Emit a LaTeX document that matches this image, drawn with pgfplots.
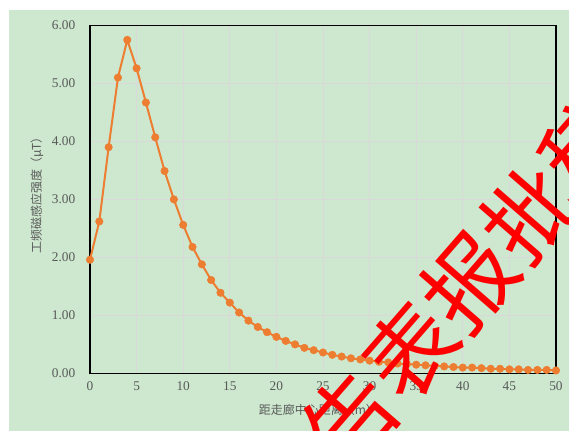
\documentclass[border=0pt]{standalone}
\usepackage{fontspec}
\setmainfont{Liberation Serif}
\newfontfamily\cjk{Noto Sans CJK SC}
\usepackage{pgfplots}
\pgfplotsset{compat=1.18}
\definecolor{bggreen}{RGB}{205,232,207}
\definecolor{lineor}{RGB}{237,125,49}
\definecolor{tickgray}{RGB}{89,89,89}
\definecolor{gridgray}{RGB}{217,217,217}
\begin{document}
\begin{tikzpicture}
\fill[white] (0pt,0pt) rectangle (426.75pt,323.25pt);
\fill[bggreen] (6.75pt,0pt) rectangle (426.75pt,315.75pt);
\begin{axis}[
  at={(67.5pt,43.2pt)}, anchor=south west,
  scale only axis, width=349.5pt, height=261pt,
  xmin=0, xmax=50, ymin=0, ymax=6,
  xtick={0,5,...,50}, ytick={0,1,...,6},
  yticklabel style={/pgf/number format/fixed, /pgf/number format/fixed zerofill, /pgf/number format/precision=2},
  /pgf/number format/assume math mode=true,
  ticklabel style={font=\fontsize{10}{11}\selectfont, text=tickgray},
  tick style={draw=none},
  grid=major, grid style={gridgray, line width=0.6pt},
  axis line style={black, line width=0.9pt},
  axis background/.style={fill=bggreen},
  xticklabel style={yshift=-3pt},
  yticklabel style={xshift=-7.5pt},
  xlabel={\cjk 距走廊中心距离（m）},
  ylabel={\cjk 工频磁感应强度（μT）},
  label style={font=\fontsize{9}{10}\selectfont, text=tickgray},
  xlabel style={at={(axis description cs:0.49,-0.105)}, anchor=center},
  ylabel style={at={(axis description cs:-0.114,0.52)}, anchor=center},
]
\addplot[color=lineor, line width=1.5pt, mark=*, mark size=2.8pt, mark options={solid, fill=lineor, draw=lineor, line width=0.4pt}] coordinates {
(0,1.96) (1,2.62) (2,3.90) (3,5.10) (4,5.75) (5,5.26) (6,4.67) (7,4.07) (8,3.49) (9,3.00)
(10,2.56) (11,2.18) (12,1.88) (13,1.61) (14,1.39) (15,1.22) (16,1.05) (17,0.91) (18,0.80) (19,0.71)
(20,0.63) (21,0.56) (22,0.50) (23,0.44) (24,0.40) (25,0.36) (26,0.32) (27,0.29) (28,0.26) (29,0.24)
(30,0.22) (31,0.20) (32,0.19) (33,0.17) (34,0.16) (35,0.15) (36,0.14) (37,0.13) (38,0.12) (39,0.11)
(40,0.10) (41,0.10) (42,0.09) (43,0.08) (44,0.08) (45,0.07) (46,0.07) (47,0.06) (48,0.06) (49,0.06)
(50,0.05)
};
\end{axis}
\begin{scope}
\clip (0pt,0pt) rectangle (426.75pt,323.25pt);
\node[rotate=49, text=red, font=\cjk\fontsize{68}{68}\selectfont, inner sep=0pt] at (330pt,86pt) {报告表报批稿};
\end{scope}
\pgfresetboundingbox
\path (0pt,0pt) rectangle (426.75pt,323.25pt);
\end{tikzpicture}
\end{document}
